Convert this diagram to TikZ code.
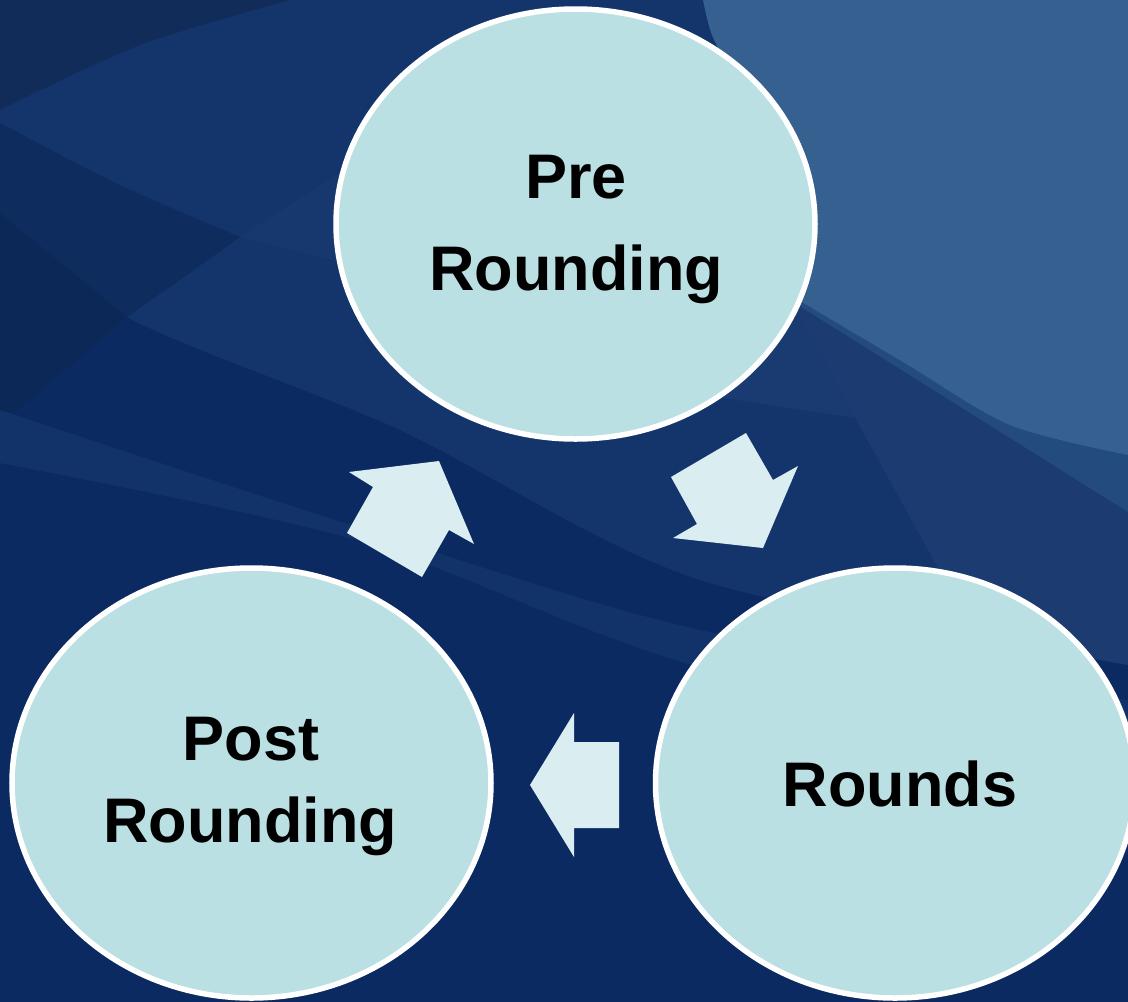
\documentclass[tikz,border=0pt]{standalone}
\usepackage{fontspec}
\setmainfont{Liberation Sans}
\usetikzlibrary{shapes.geometric}
\definecolor{bgbase}{HTML}{0B2A61}
\definecolor{bgupper}{HTML}{14356B}
\definecolor{bgband}{HTML}{12336A}
\definecolor{bgdark}{HTML}{0B2857}
\definecolor{bgwedge}{HTML}{0F2C5E}
\definecolor{bgcorner}{HTML}{112C59}
\definecolor{bgpale}{HTML}{16386E}
\definecolor{bglight}{HTML}{36608F}
\definecolor{bgmed}{HTML}{234B7E}
\definecolor{bgright}{HTML}{1B3B71}
\definecolor{bgrighttwo}{HTML}{1A3B71}
\definecolor{ellfill}{HTML}{BAE0E3}
\definecolor{arrfill}{HTML}{DAEEF1}
\begin{document}
\begin{tikzpicture}[x=1pt,y=-1pt,
  bubble/.style={ellipse, draw=white, line width=5.5pt, fill=ellfill,
    minimum width=479pt, minimum height=430pt, inner sep=0pt},
  caption/.style={font=\fontsize{63}{75}\selectfont\bfseries, text=black,
    anchor=base, inner sep=0pt},
  blockarrow/.style={fill=arrfill, draw=none}]
% ---------- background ----------
\useasboundingbox (0,0) rectangle (1128,1002);
\fill[bgbase] (0,0) rectangle (1128,1002);
\fill[bgupper] (0,0) -- (1128,0) -- (1128,665)
  -- plot[smooth] coordinates {(1128,665) (700,580) (400,430) (127,317) (0,213)} -- cycle;
\fill[bgcorner] (0,0) -- (0,110)
  -- plot[smooth] coordinates {(0,110) (140,45) (290,0)} -- cycle;
\fill[bgwedge] plot[smooth] coordinates {(0,123) (120,185) (240,237)}
  -- (180,280) -- (127,317)
  -- plot[smooth] coordinates {(127,317) (60,262) (0,213)} -- cycle;
\fill[bgdark] plot[smooth] coordinates {(0,213) (60,262) (127,317)}
  -- plot[smooth] coordinates {(127,317) (40,391) (0,422)} -- cycle;
\fill[bgpale] (240,237) -- (333,177) -- (430,120) -- (560,340) -- (400,277) -- cycle;
\fill[bgband] plot[smooth] coordinates {(0,410) (357,527) (700,630) (1128,700)}
  -- plot[smooth] coordinates {(1128,740) (700,667) (360,541) (0,463)} -- cycle;
\fill[bgright] (790,300) -- (975,635) -- (1128,665) -- (1128,400) -- cycle;
\fill[bgrighttwo] (650,380) -- (718,397) -- (855,418) -- (790,300) -- cycle;
\fill[bgmed] (790,300) -- (1128,512) -- (1128,300) -- cycle;
\fill[bglight] plot[smooth] coordinates {(703,0) (712,35) (735,80)}
  -- (795,298)
  -- plot[smooth] coordinates {(795,298) (903,362) (1010,425) (1128,455)}
  -- (1128,0) -- cycle;
% ---------- bubbles ----------
\node[bubble] (pre) at (575.5,224) {};
\node[bubble] (post) at (251.5,783) {};
\node[bubble] (rnd) at (895,783) {};
\node[caption] (preA) at (576,198) {Pre};
\node[caption] (preB) at (576,290) {Rounding};
\node[caption] (postA) at (251,760) {Post};
\node[caption] (postB) at (250,842) {Rounding};
\node[caption] (rndA) at (900,806) {Rounds};
% ---------- block arrows ----------
\fill[blockarrow] (671,477) -- (746,433) -- (773,480) -- (798,466) -- (763,548)
  -- (673,538) -- (697,524) -- cycle;
\fill[blockarrow] (619,742) -- (619,828) -- (574,828) -- (574,857) -- (530,785)
  -- (574,713) -- (574,742) -- cycle;
\fill[blockarrow] (422,577) -- (347,533) -- (373,487) -- (349,472) -- (439,461)
  -- (474,544) -- (449,530) -- cycle;
\end{tikzpicture}
\end{document}
